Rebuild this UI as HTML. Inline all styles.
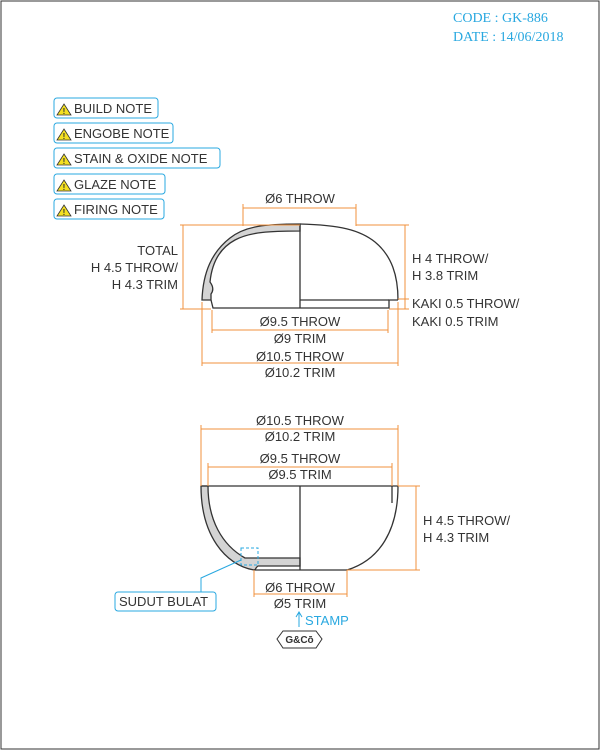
<!DOCTYPE html>
<html><head><meta charset="utf-8"><style>
html,body{margin:0;padding:0;background:#fff;width:600px;height:750px;overflow:hidden}
svg{display:block}
text{font-family:"Liberation Sans",sans-serif;font-size:13px;fill:#333}
.o{stroke:#f0923c;stroke-width:1;fill:none}
.k{stroke:#333;stroke-width:1.3;fill:none}
.g{fill:#d4d4d4;stroke:#333;stroke-width:1.3}
.b{stroke:#29a8e0;fill:#fff;stroke-width:1}
.bt{fill:#29a8e0}
</style></head><body>
<svg width="600" height="750" viewBox="0 0 600 750">
<rect x="1" y="1" width="598" height="748" fill="none" stroke="#333"/>
<g>
<text x="453" y="22" class="bt" style="font-family:'Liberation Serif',serif;font-size:14px">CODE : GK-886</text>
<text x="453" y="41" class="bt" style="font-family:'Liberation Serif',serif;font-size:14px">DATE : 14/06/2018</text>
</g>
<g>
<g><rect class="b" x="54" y="98" width="104" height="20" rx="3"/><path d="M64 104 L71 115 L57 115 Z" fill="#f4e022" stroke="#333" stroke-width="0.8"/><text x="64" y="114" text-anchor="middle" style="font-size:8px;font-weight:bold">!</text><text x="74" y="113">BUILD NOTE</text></g>
<g><rect class="b" x="54" y="123" width="119" height="20" rx="3"/><path d="M64 129 L71 140 L57 140 Z" fill="#f4e022" stroke="#333" stroke-width="0.8"/><text x="64" y="139" text-anchor="middle" style="font-size:8px;font-weight:bold">!</text><text x="74" y="138">ENGOBE NOTE</text></g>
<g><rect class="b" x="54" y="148" width="166" height="20" rx="3"/><path d="M64 154 L71 165 L57 165 Z" fill="#f4e022" stroke="#333" stroke-width="0.8"/><text x="64" y="164" text-anchor="middle" style="font-size:8px;font-weight:bold">!</text><text x="74" y="163">STAIN &amp; OXIDE NOTE</text></g>
<g><rect class="b" x="54" y="174" width="111" height="20" rx="3"/><path d="M64 180 L71 191 L57 191 Z" fill="#f4e022" stroke="#333" stroke-width="0.8"/><text x="64" y="190" text-anchor="middle" style="font-size:8px;font-weight:bold">!</text><text x="74" y="189">GLAZE NOTE</text></g>
<g><rect class="b" x="54" y="199" width="110" height="20" rx="3"/><path d="M64 205 L71 216 L57 216 Z" fill="#f4e022" stroke="#333" stroke-width="0.8"/><text x="64" y="215" text-anchor="middle" style="font-size:8px;font-weight:bold">!</text><text x="74" y="214">FIRING NOTE</text></g>
</g>

<!-- LID -->
<g>
<path class="g" d="M300 224 C265 224 245 226 230 238 C212 252 203 272 202 300 L211 300 L211 294 C214 290 213 286 210 282 C212 262 220 248 235 240 C250 232 270 231 300 231 Z"/>
<path class="k" d="M211 300 L213 308 L389 308 L389 300 L398 300"/>
<path class="k" d="M300 224 C340 225 360 230 375 242 C392 256 398 276 398 300"/>
<path class="k" d="M300 224 L300 308 M300 300 L389 300"/>
<!-- dims -->
<path class="o" d="M243 208 L356 208 M243 204 L243 226 M356 204 L356 226"/>
<text x="300" y="203" text-anchor="middle">Ø6 THROW</text>
<path class="o" d="M183 225 L183 309 M180 225 L300 225 M180 309 L211 309"/>
<text x="178" y="255" text-anchor="end">TOTAL</text>
<text x="178" y="272" text-anchor="end">H 4.5 THROW/</text>
<text x="178" y="289" text-anchor="end">H 4.3 TRIM</text>
<path class="o" d="M405 225 L405 309 M356 225 L409 225 M398 299 L409 299 M389 309 L409 309"/>
<text x="412" y="263">H 4 THROW/</text>
<text x="412" y="280">H 3.8 TRIM</text>
<text x="412" y="308">KAKI 0.5 THROW/</text>
<text x="412" y="326">KAKI 0.5 TRIM</text>
<path class="o" d="M212 330 L388 330 M212 310 L212 333 M388 310 L388 333"/>
<text x="300" y="326" text-anchor="middle">Ø9.5 THROW</text>
<text x="300" y="343" text-anchor="middle">Ø9 TRIM</text>
<path class="o" d="M202 363 L398 363 M202 302 L202 366 M398 302 L398 366"/>
<text x="300" y="361" text-anchor="middle">Ø10.5 THROW</text>
<text x="300" y="377" text-anchor="middle">Ø10.2 TRIM</text>
</g>

<!-- BOWL -->
<g>
<path class="g" d="M201 486 L208 486 C208 520 222 545 245 558 L300 558 L300 566 L258 566 C255 568 256 570 254 570 C225 565 201 535 201 486 Z"/>
<path class="k" d="M201 486 L398 486 M300 486 L300 570 M254 570 L347 570 M392 486 L392 503"/>
<path class="k" d="M398 486 C398 530 380 560 347 570"/>
<path class="o" d="M201 429 L398 429 M201 425 L201 486 M398 425 L398 486"/>
<text x="300" y="425" text-anchor="middle">Ø10.5 THROW</text>
<text x="300" y="441" text-anchor="middle">Ø10.2 TRIM</text>
<path class="o" d="M208 467 L392 467 M208 463 L208 486 M392 463 L392 486"/>
<text x="300" y="463" text-anchor="middle">Ø9.5 THROW</text>
<text x="300" y="479" text-anchor="middle">Ø9.5 TRIM</text>
<path class="o" d="M416 486 L416 570 M398 486 L420 486 M347 570 L420 570"/>
<text x="423" y="525">H 4.5 THROW/</text>
<text x="423" y="542">H 4.3 TRIM</text>
<path class="o" d="M254 594 L347 594 M254 570 L254 597 M347 570 L347 597"/>
<text x="300" y="592" text-anchor="middle">Ø6 THROW</text>
<text x="300" y="608" text-anchor="middle">Ø5 TRIM</text>
<rect x="241" y="548" width="17" height="17" fill="none" stroke="#29a8e0" stroke-dasharray="3,2"/>
<path d="M241 560 L201 578 L201 592" stroke="#29a8e0" fill="none"/>
<g><rect class="b" x="115" y="592" width="101" height="19" rx="3"/><text x="119" y="606">SUDUT BULAT</text></g>
<path d="M299 627 L299 613 M296 617 L299 612 L302 617" stroke="#29a8e0" fill="none"/>
<text x="305" y="625" class="bt">STAMP</text>
<g>
<path d="M283 631 L316 631 L322 639 L316 648 L283 648 L277 639 Z" fill="#fff" stroke="#333"/>
<text x="299.5" y="643" text-anchor="middle" style="font-size:10px;font-weight:bold">G&amp;Cō</text>
</g>
</g>
</svg>
</body></html>
